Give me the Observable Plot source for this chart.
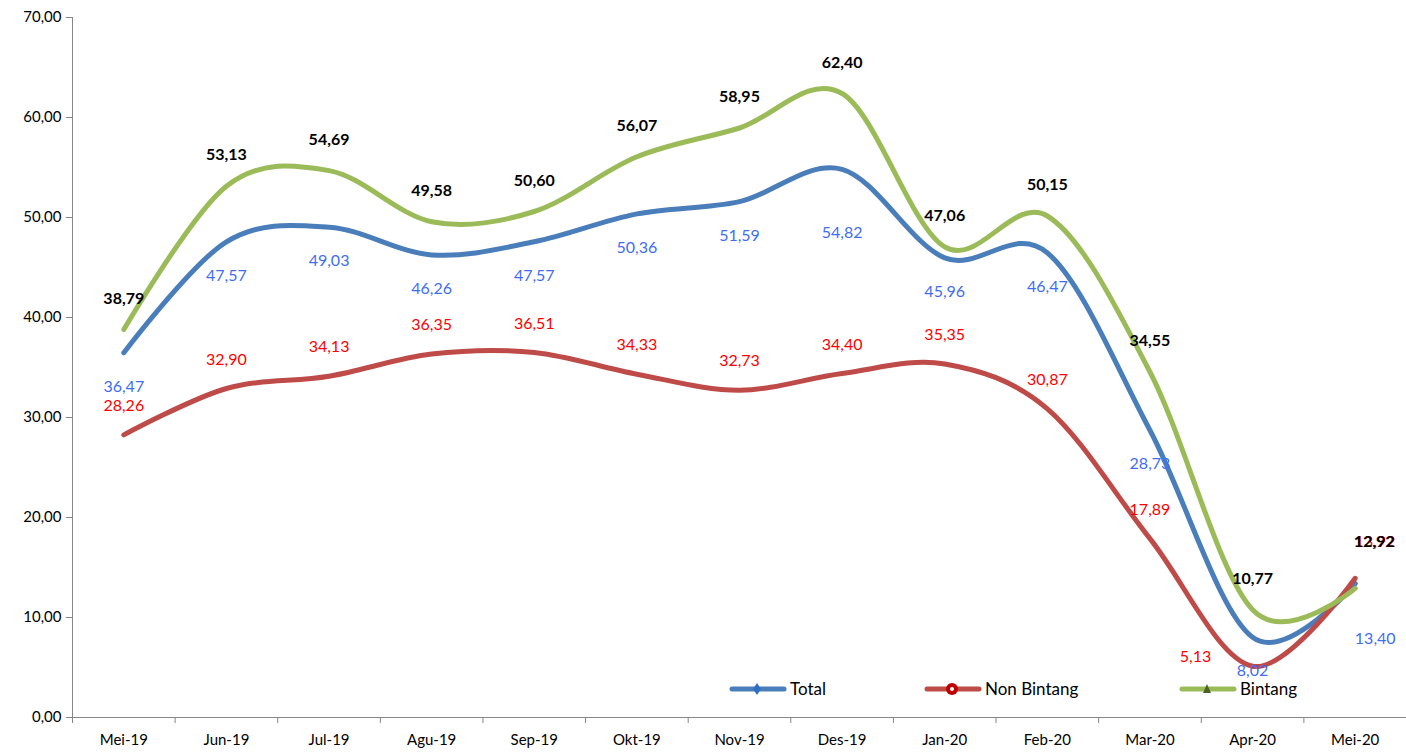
<!DOCTYPE html>
<html><head><meta charset="utf-8">
<script src="https://cdn.jsdelivr.net/npm/d3@7"></script>
<script src="https://cdn.jsdelivr.net/npm/@observablehq/plot@0.6"></script>
<style>
body{margin:0;background:#fff;font-family:Lato,"Open Sans",sans-serif;}
#wrap{position:relative;width:1406px;height:755px;}
.leg{position:absolute;top:678px;display:flex;align-items:center;font-size:17px;color:#000;font-family:Lato,sans-serif;}
.leg svg{display:block;margin-right:3px;}
</style></head><body><div id="wrap"></div>
<script>
const months = ["Mei-19","Jun-19","Jul-19","Agu-19","Sep-19","Okt-19","Nov-19","Des-19","Jan-20","Feb-20","Mar-20","Apr-20","Mei-20"];
const total = [36.47,47.57,49.03,46.26,47.57,50.36,51.59,54.82,45.96,46.47,28.73,8.02,13.40];
const nonBintang = [28.26,32.90,34.13,36.35,36.51,34.33,32.73,34.40,35.35,30.87,17.89,5.13,13.92];
const bintang = [38.79,53.13,54.69,49.58,50.60,56.07,58.95,62.40,47.06,50.15,34.55,10.77,12.92];
const seriesNames = ["Total","Non Bintang","Bintang"];
const yTicks = [0,10,20,30,40,50,60,70];

const lineColors = {"Total":"#4a7ebb","Non Bintang":"#be4b48","Bintang":"#9bbb59"};
const labelColors = {"Total":"#3f6df3","Non Bintang":"#ff0000","Bintang":"#000000"};
const labelWeight = {"Total":"normal","Non Bintang":"normal","Bintang":"bold"};
const defaultOffset = {"Total":[0,34],"Non Bintang":[0,-29],"Bintang":[0,-31]};
const offsetOverride = {"Total|7":[0,64],"Non Bintang|11":[-57,-9],"Total|12":[20,55],"Bintang|12":[19,-46],"Non Bintang|12":[20,-36]};

const fmt = d => d.toFixed(2).replace(".", ",");
const valuesBy = {"Total":total,"Non Bintang":nonBintang,"Bintang":bintang};
const rows = seriesNames.flatMap(s => valuesBy[s].map((v,i) => ({series:s, i, value:v})));

const labelOrder = ["Non Bintang","Total","Bintang"];
const labelMarks = labelOrder.flatMap(s => rows.filter(r => r.series===s).map(r => {
  const off = offsetOverride[s+"|"+r.i] || defaultOffset[s];
  return Plot.text([r], {x:"i", y:"value", text: d => fmt(d.value), dx: off[0], dy: off[1],
    fill: labelColors[s], fontWeight: labelWeight[s], fontSize: 16, textAnchor:"middle", lineAnchor:"middle"});
}));

const chart = Plot.plot({
  width: 1406, height: 755,
  marginLeft: 72, marginRight: 0, marginTop: 17, marginBottom: 38,
  style: {fontFamily: "Lato, 'Open Sans', sans-serif", fontSize: "15px", background: "#fff"},
  x: {type: "linear", domain: [-0.5, 12.5], axis: null},
  y: {domain: [0, 70], axis: null},
  marks: [
    Plot.axisY({ticks: yTicks, tickFormat: fmt, tickSize: 6, tickPadding: 5, stroke: "#868686", fill: "#000", fontSize: 15, label: null}),
    Plot.axisX({ticks: d3.range(0,13), tickFormat: i => months[i], tickSize: 0, tickPadding: 17, fill: "#000", fontSize: 15, label: null}),
    Plot.axisX({ticks: d3.range(-0.5, 13, 1), tickFormat: () => "", tickSize: 6, stroke: "#868686", label: null}),
    Plot.ruleY([0], {stroke: "#868686"}),
    Plot.ruleX([-0.5], {stroke: "#868686"}),
    ...seriesNames.map(s => Plot.line(rows.filter(r => r.series===s), {x:"i", y:"value", stroke: lineColors[s], strokeWidth: 5, curve: "cardinal", tension: 0, strokeLinecap:"round", strokeLinejoin:"round"})),
    ...labelMarks
  ]
});
const wrap = document.getElementById("wrap");
wrap.appendChild(chart);

const legendItems = [
  {name:"Total", left:729, marker:'<path d="M28,3 L32,9 L28,15 L24,9 Z" fill="#2f6fbf"/>'},
  {name:"Non Bintang", left:924, marker:'<circle cx="28" cy="9" r="6" fill="#c00000"/><circle cx="28" cy="9" r="2" fill="#fff"/>'},
  {name:"Bintang", left:1179, marker:'<path d="M28,4 L32,13 L24,13 Z" fill="#4f6228"/>'}
];
legendItems.forEach(it => {
  const d = document.createElement("div");
  d.className = "leg";
  d.style.left = it.left + "px";
  d.innerHTML = `<svg width="58" height="18"><line x1="3" y1="9" x2="55" y2="9" stroke="${lineColors[it.name]}" stroke-width="5" stroke-linecap="round"/>${it.marker}</svg><span>${it.name}</span>`;
  wrap.appendChild(d);
});
</script></body></html>
